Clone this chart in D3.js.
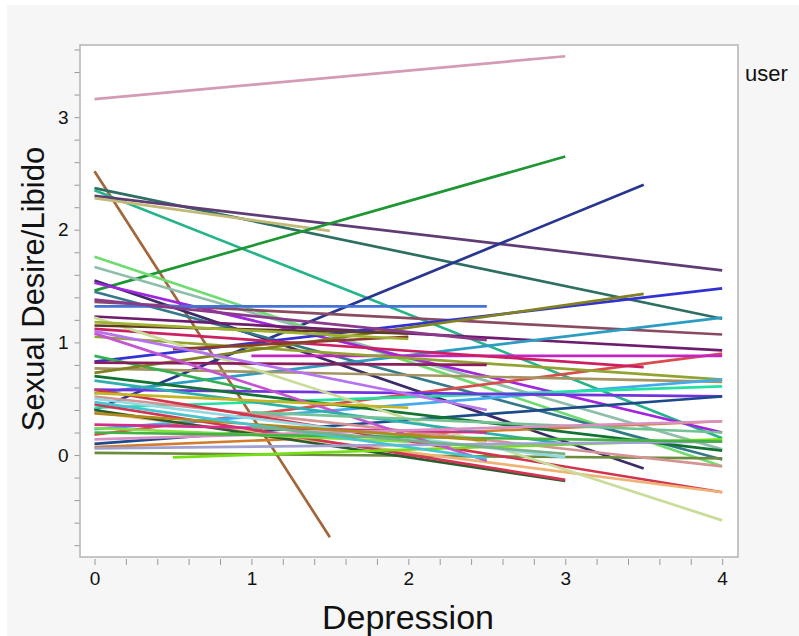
<!DOCTYPE html>
<html>
<head>
<meta charset="utf-8">
<title>Sexual Desire/Libido by Depression</title>
<script src="https://d3js.org/d3.v7.min.js"></script>
<style>
  body { margin: 0; background: #fff; }
  text { font-family: "Liberation Sans", Arial, Helvetica, sans-serif; fill: #111; }
</style>
</head>
<body>
<div id="chart"></div>
<script>
// One fitted line per user: Depression range and fitted Sexual Desire/Libido at each end
var depStart = [0, 0, 0, 0, 0, 0, 0, 0, 0, 0, 0, 0, 0, 0, 0, 0, 0, 0, 0, 1,
                0, 0, 0, 0, 0, 0, 0, 0, 0, 0, 0, 0, 0, 0, 0, 0, 0, 0, 0, 0.5,
                0.5, 0, 0, 0, 0, 1, 0, 0, 0, 0, 0, 0, 0, 0, 0, 0, 0, 1];
var depEnd   = [3, 1.5, 4, 4, 4, 1.5, 3, 3.5, 4, 4, 3.5, 4, 4, 4, 2.5, 4, 4, 4, 4, 4,
                3.5, 4, 4, 4, 4, 4, 4, 4, 1, 4, 4, 4, 4, 4, 4, 3, 3, 3, 3.5, 2,
                4, 2.5, 2.5, 3, 4, 4, 2, 2, 2, 2.5, 2.5, 2.5, 2, 4, 4, 2.5, 2.5, 3];
var libStart = [3.16, 2.52, 2.37, 2.35, 2.30, 2.28, 1.46, 0.40, 1.76, 1.67, 1.55, 1.53, 1.45, 1.36, 1.32, 1.23, 0.83, 0.55, 0.18, 0.88,
                1.12, 1.05, 0.77, 0.23, 0.42, 0.58, 0.10, 0.07, 0.88, 0.70, 0.02, 0.52, 0.58, 0.38, 1.22, 0.40, 0.45, 0.50, 0.73, 0.94,
                -0.02, 0.82, 1.08, 0.66, 0.06, 0.38, 0.55, 1.15, 1.18, 1.38, 1.10, 0.27, 0.24, 0.14, 0.20, 0.37, 0.47, 0.25];
var libEnd   = [3.54, -0.73, 1.21, 0.15, 1.64, 1.99, 2.65, 2.40, -0.10, 0.05, -0.12, 0.20, -0.04, 1.07, 1.32, 0.93, 1.48, 1.22, 0.90, 0.88,
                0.78, 0.67, 0.65, 0.67, 0.61, 0.52, 0.52, 0.30, 0.58, 0.04, -0.03, -0.10, -0.33, -0.33, -0.58, -0.23, -0.22, -0.02, 1.43, 1.05,
                0.14, 0.80, -0.05, 0.10, 0.12, 0.20, 0.42, 1.08, 1.03, 1.02, 0.40, 0.20, 0.12, 0.30, 0.12, 0.13, -0.03, 0.01];

var userColors = ["#d49bb6", "#a2663a", "#2f6e62", "#25b48a", "#5f3d74", "#c2b878", "#1f9634", "#28368f", "#6fdc6f", "#8fbfaa",
                  "#3b2b66", "#a024e0", "#34798a", "#8a4a62", "#4472d6", "#6e1c6e", "#3232d4", "#2b9cc2", "#d84c4c", "#c424c4",
                  "#cc2060", "#93a332", "#a59462", "#44aaf0", "#22e2a2", "#7232e0", "#1c4a8a", "#d27c2c", "#34b054", "#127232",
                  "#6a8c3c", "#d49494", "#d2344c", "#f0b274", "#c9dc9a", "#2c5c2c", "#d43454", "#94d8e2", "#828220", "#8c3c2c",
                  "#74e014", "#8c1c5c", "#c454d4", "#2cb0ae", "#a0a0d2", "#74c294", "#c4b422", "#5c3c22", "#a0b030", "#8a3a8a",
                  "#b672f0", "#d42c8c", "#80e040", "#d890c4", "#44b244", "#b08a1c", "#48c4d0", "#78b088"];

var xMajor = [0, 1, 2, 3, 4];
var yMajor = [0, 1, 2, 3];

var W = 799, H = 636;
var plot = { left: 80, right: 738, top: 45, bottom: 557 };

var x = d3.scaleLinear().domain([-0.0924, 4.101]).range([plot.left, plot.right]);
var y = d3.scaleLinear().domain([-0.905, 3.64]).range([plot.bottom, plot.top]);

var svg = d3.select("#chart").append("svg")
  .attr("width", W).attr("height", H);

// grey panel
svg.append("rect").attr("x", 7).attr("y", 5).attr("width", W - 7).attr("height", H - 5)
  .attr("fill", "#f6f6f6");

svg.append("rect")
  .attr("x", plot.left).attr("y", plot.top)
  .attr("width", plot.right - plot.left).attr("height", plot.bottom - plot.top)
  .attr("fill", "#fff");

svg.append("defs").append("clipPath").attr("id", "clip")
  .append("rect").attr("x", plot.left).attr("y", plot.top)
  .attr("width", plot.right - plot.left).attr("height", plot.bottom - plot.top);

var lines = depStart.map(function (d, i) {
  return { x0: d, x1: depEnd[i], y0: libStart[i], y1: libEnd[i], c: userColors[i] };
});

svg.append("g").attr("clip-path", "url(#clip)")
  .selectAll("line").data(lines).enter().append("line")
  .attr("x1", d => x(d.x0)).attr("y1", d => y(d.y0))
  .attr("x2", d => x(d.x1)).attr("y2", d => y(d.y1))
  .attr("stroke", d => d.c)
  .attr("stroke-width", 2.7);

svg.append("rect")
  .attr("x", plot.left).attr("y", plot.top)
  .attr("width", plot.right - plot.left).attr("height", plot.bottom - plot.top)
  .attr("fill", "none").attr("stroke", "#b4b4b4").attr("stroke-width", 1.5);

// y axis
var yAxis = d3.axisLeft(y)
  .tickValues(d3.range(-8, 37, 2).map(v => v / 10))
  .tickSize(5)
  .tickFormat(d => yMajor.indexOf(d) >= 0 ? d : "");
var gy = svg.append("g").attr("transform", "translate(" + (plot.left - 0.5) + ",0)").call(yAxis);
gy.select(".domain").remove();
gy.selectAll(".tick line").attr("stroke", "#999");
gy.selectAll(".tick text").style("font-size", "19px").attr("x", -11);

// x axis
var xAxis = d3.axisBottom(x)
  .tickValues(d3.range(0, 41, 2).map(v => v / 10))
  .tickSize(6)
  .tickFormat(d => xMajor.indexOf(d) >= 0 ? d : "");
var gx = svg.append("g").attr("transform", "translate(0," + (plot.bottom + 2) + ")").call(xAxis);
gx.select(".domain").remove();
gx.selectAll(".tick line").attr("stroke", "#999");
gx.selectAll(".tick text").style("font-size", "19px").attr("y", 13);

svg.append("text")
  .attr("x", 408).attr("y", 629)
  .attr("text-anchor", "middle").attr("font-size", 34)
  .text("Depression");

svg.append("text")
  .attr("transform", "translate(44,289) rotate(-90)")
  .attr("text-anchor", "middle").attr("font-size", 31)
  .text("Sexual Desire/Libido");

svg.append("text")
  .attr("x", 745).attr("y", 81)
  .attr("font-size", 22)
  .text("user");
</script>
</body>
</html>
